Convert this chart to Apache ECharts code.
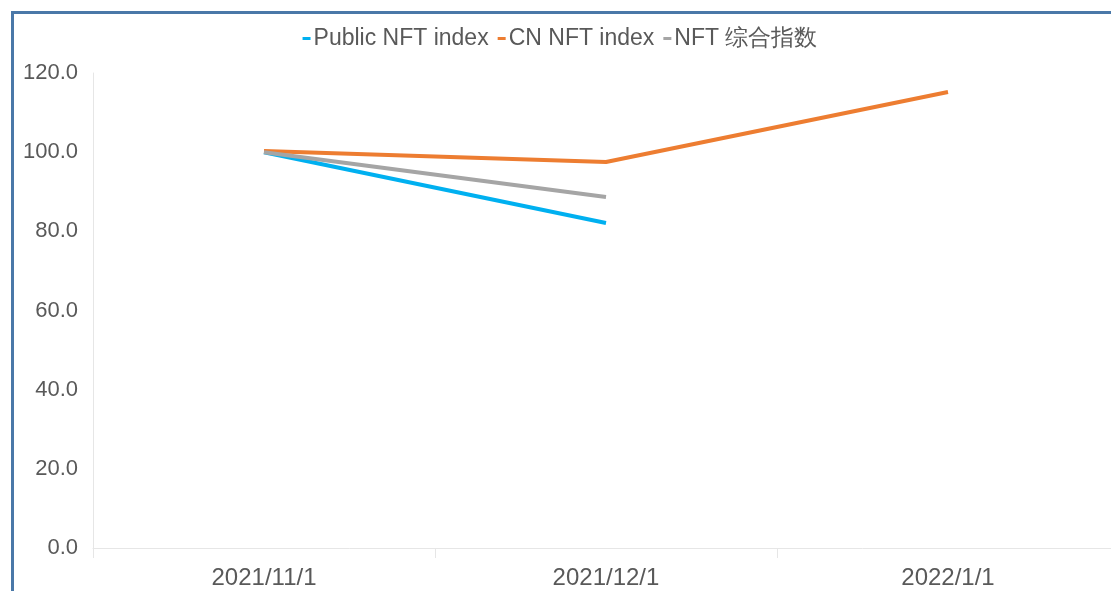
<!DOCTYPE html>
<html>
<head>
<meta charset="utf-8">
<script src="https://cdn.jsdelivr.net/npm/echarts@6/dist/echarts.min.js"></script>
<style>
  html, body { margin: 0; padding: 0; background: #fff; overflow: hidden; }
  #frame {
    position: absolute; left: 11px; top: 11px; width: 1140px; height: 620px;
    border-left: 3px solid #4a78a8; border-top: 3px solid #4a78a8;
  }
  #main { position: absolute; left: 0; top: 0; width: 1120px; height: 591px; }
</style>
</head>
<body>
<div id="frame"></div>
<div id="main"></div>
<script>
var categories = ['2021/11/1', '2021/12/1', '2022/1/1']
var publicNft = [100.0, 82.1, null]
var cnNft = [100.3, 97.5, 115.2]
var nftComposite = [100.0, 88.7, null]
var yTicks = [0, 20, 40, 60, 80, 100, 120]

var chart = echarts.init(document.getElementById('main'))

var font = '"Liberation Sans", Arial, sans-serif'

var option = {
    animation: false,
    textStyle: { fontFamily: font },
    legend: {
        top: 22,
        left: 'center',
        itemWidth: 8,
        itemHeight: 3,
        itemGap: 9,
        icon: 'rect',
        textStyle: { fontSize: 23, color: '#595959', fontFamily: font, padding: [0, 0, 0, -2] },
        data: ['Public NFT index', 'CN NFT index', 'NFT 综合指数']
    },
    grid: { left: 93, right: 1, top: 73, bottom: 43 },
    xAxis: {
        type: 'category',
        data: categories,
        boundaryGap: true,
        axisLine: { lineStyle: { color: '#e6e6e6', width: 1 } },
        axisTick: { show: true, length: 10, lineStyle: { color: '#e6e6e6' } },
        axisLabel: { fontSize: 24, color: '#595959', margin: 18, fontFamily: font }
    },
    yAxis: {
        type: 'value',
        min: yTicks[0],
        max: yTicks[yTicks.length - 1],
        interval: 20,
        axisLine: { show: true, lineStyle: { color: '#e6e6e6', width: 1 } },
        axisTick: { show: false },
        splitLine: { show: false },
        axisLabel: {
            fontSize: 22, color: '#595959', margin: 15, fontFamily: font,
            formatter: function (v) { return v.toFixed(1) }
        }
    },
    series: [
        {
            name: 'Public NFT index', type: 'line', data: publicNft,
            symbol: 'none', color: '#00b0f0', lineStyle: { width: 4, color: '#00b0f0' }
        },
        {
            name: 'CN NFT index', type: 'line', data: cnNft,
            symbol: 'none', color: '#ed7d31', lineStyle: { width: 4, color: '#ed7d31' }
        },
        {
            name: 'NFT 综合指数', type: 'line', data: nftComposite,
            symbol: 'none', color: '#a5a5a5', lineStyle: { width: 4, color: '#a5a5a5' }
        }
    ]
}
chart.setOption(option)
</script>
</body>
</html>
